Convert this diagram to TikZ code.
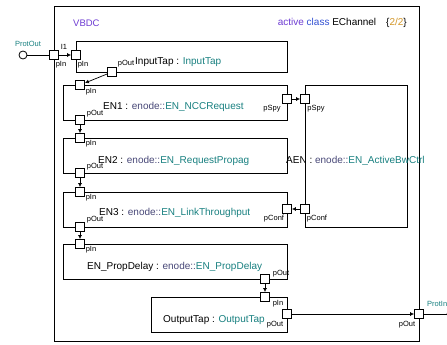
\documentclass[tikz,border=0pt]{standalone}
\usepackage{fontspec}
\setmainfont{Liberation Sans}
\usetikzlibrary{arrows.meta,shadows}
\definecolor{tealtxt}{RGB}{24,128,128}
\definecolor{nstxt}{RGB}{72,72,120}
\definecolor{kwpurple}{RGB}{110,60,210}
\definecolor{kwblue}{RGB}{50,80,210}
\definecolor{pageorange}{RGB}{210,150,40}
\begin{document}
\begin{tikzpicture}[x=1pt,y=-1pt,
  part/.style={draw, line width=0.8pt, fill=white, inner sep=0pt,
    drop shadow={shadow xshift=0.8pt, shadow yshift=-0.8pt, opacity=0.35}},
  port/.style={draw, line width=0.8pt, fill=white, minimum size=9pt, inner sep=0pt},
  plabel/.style={font=\fontsize{7.5}{8}\selectfont, inner sep=0pt},
  title/.style={font=\fontsize{10}{12}\selectfont, anchor=west, inner sep=0pt},
  link/.style={-{Latex[length=4pt,width=4pt]}, line width=0.7pt}]
\useasboundingbox (0,0) rectangle (447,345);

% Draw frame
\node[draw, line width=0.8pt, minimum width=365pt, minimum height=335pt] (frame) at (236.5,173.5) {};
\node[title, font=\fontsize{9.5}{12}\selectfont, text=kwpurple] (vbdc) at (73,23) {VBDC};
\node[title, anchor=east] (head) at (407,23)
  {{\color{kwpurple}active} {\color{kwblue}class} EChannel\quad\{{\color{pageorange}2/2}\}};

% Draw parts
\node[part, minimum width=211pt, minimum height=31pt] (inputtap) at (181.5,56.5) {};
\node[part, minimum width=224pt, minimum height=35pt] (en1) at (175,102.5) {};
\node[part, minimum width=224pt, minimum height=35pt] (en2) at (175,155.5) {};
\node[part, minimum width=224pt, minimum height=35pt] (en3) at (175,209.5) {};
\node[part, minimum width=102pt, minimum height=142pt] (aen) at (356,156) {};
\node[part, minimum width=224pt, minimum height=35pt] (propdelay) at (175,261.5) {};
\node[part, minimum width=136pt, minimum height=35pt] (outputtap) at (219,314.5) {};

% Part labels
\node[title] (l_inputtap) at (135,62) {InputTap : {\color{tealtxt}InputTap}};
\node[title] (l_en1) at (103,107) {EN1 : {\color{nstxt}enode::}{\color{tealtxt}EN\_NCCRequest}};
\node[title] (l_en2) at (98,161) {EN2 : {\color{nstxt}enode::}{\color{tealtxt}EN\_RequestPropag}};
\node[title] (l_en3) at (99,213) {EN3 : {\color{nstxt}enode::}{\color{tealtxt}EN\_LinkThroughput}};
\node[title] (l_aen) at (286,161) {AEN : {\color{nstxt}enode::}{\color{tealtxt}EN\_ActiveBwCtrl}};
\node[title] (l_propdelay) at (87,267) {EN\_PropDelay : {\color{nstxt}enode::}{\color{tealtxt}EN\_PropDelay}};
\node[title] (l_outputtap) at (163,320) {OutputTap : {\color{tealtxt}OutputTap}};

% Ports
\node[draw, circle, line width=0.8pt, fill=white, minimum size=8pt, inner sep=0pt] (protout) at (23,55) {};
\node[draw, circle, line width=0.8pt, fill=white, minimum size=8pt, inner sep=0pt] (protin) at (451,314) {};
\node[port] (b_pin) at (54,55) {};
\node[port] (b_pout) at (419,314) {};
\node[port] (in_pin) at (76,55) {};
\node[port] (in_pout) at (112,72) {};
\node[port] (en1_pin) at (80,85) {};
\node[port] (en1_pout) at (80,120) {};
\node[port] (en1_pspy) at (287,99) {};
\node[port] (aen_pspy) at (305,99) {};
\node[port] (en2_pin) at (80,138) {};
\node[port] (en2_pout) at (80,173) {};
\node[port] (en3_pin) at (80,192) {};
\node[port] (en3_pout) at (80,227) {};
\node[port] (en3_pconf) at (287,209) {};
\node[port] (aen_pconf) at (305,209) {};
\node[port] (pd_pin) at (80,244) {};
\node[port] (pd_pout) at (265,279) {};
\node[port] (ot_pin) at (265,297) {};
\node[port] (ot_pout) at (287,314) {};

% Port labels
\node[plabel, text=tealtxt] (l_protout) at (28,44) {ProtOut};
\node[plabel, text=tealtxt, anchor=west] (l_protin) at (427,304) {ProtIn};
\node[plabel] (l_i1) at (64,47) {I1};
\node[plabel] (l_bpin) at (61,65) {pIn};
\node[plabel] (l_bpout) at (407,325) {pOut};
\node[plabel] (l_inpin) at (83,65) {pIn};
\node[plabel] (l_inpout) at (126,64) {pOut};
\node[plabel] (l_en1pin) at (91,92) {pIn};
\node[plabel] (l_en1pout) at (95,114) {pOut};
\node[plabel] (l_en1pspy) at (272,109) {pSpy};
\node[plabel] (l_aenpspy) at (316,109) {pSpy};
\node[plabel] (l_en2pin) at (91,144) {pIn};
\node[plabel] (l_en2pout) at (95,167) {pOut};
\node[plabel] (l_en3pin) at (91,198) {pIn};
\node[plabel] (l_en3pout) at (95,220) {pOut};
\node[plabel] (l_en3pconf) at (274,219) {pConf};
\node[plabel] (l_aenpconf) at (317,219) {pConf};
\node[plabel] (l_pdpin) at (91,250) {pIn};
\node[plabel] (l_pdpout) at (281,274) {pOut};
\node[plabel] (l_otpin) at (278,304) {pIn};
\node[plabel] (l_otpout) at (275,325) {pOut};

% Connectors
\draw[line width=0.7pt] (protout) -- (b_pin);
\draw[line width=0.7pt] (b_pout) -- (protin);
\draw[link] (b_pin) -- (in_pin);
\draw[link] (in_pout) -- (en1_pin);
\draw[link] (en1_pout) -- (en2_pin);
\draw[link] (en2_pout) -- (en3_pin);
\draw[link] (en3_pout) -- (pd_pin);
\draw[link] (pd_pout) -- (ot_pin);
\draw[link] (en1_pspy) -- (aen_pspy);
\draw[link] (aen_pconf) -- (en3_pconf);
\draw[link] (ot_pout) -- (b_pout);
\end{tikzpicture}
\end{document}
